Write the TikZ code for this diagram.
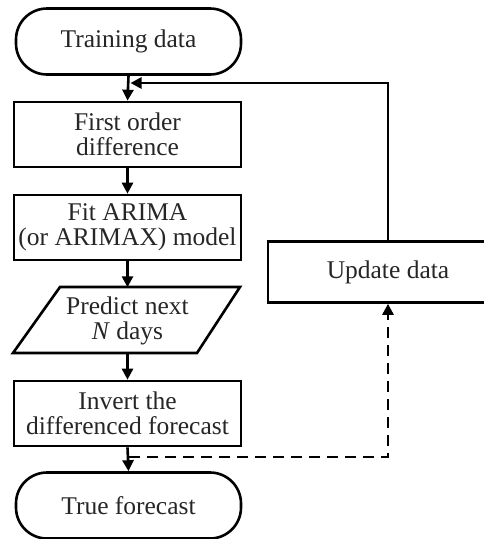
\documentclass[tikz,border=0pt]{standalone}
\usepackage{fontspec}
\setmainfont{Liberation Serif}
\usetikzlibrary{arrows.meta,calc}
\begin{document}
\begin{tikzpicture}[x=1pt,y=-1pt,
  every node/.style={font=\fontsize{25.5}{25}\selectfont, align=center, inner sep=0pt, text=black!85},
  boxnode/.style={draw=black, line width=2.6pt, minimum width=227pt, minimum height=65pt},
  termnode/.style={draw=black, line width=2.6pt, rounded corners=31pt, minimum width=225pt, minimum height=66pt},
  arr/.style={line width=2.6pt, -{Triangle[length=11pt,width=11pt]}},
  dasharr/.style={arr, dash pattern=on 11pt off 7pt}]
\useasboundingbox (0,0) rectangle (484,539);
\node[termnode] (train) at (128.5,41.5) {Training data};
\node[boxnode] (first) at (127.5,134.5) {First order\\difference};
\node[boxnode] (fit) at (127.5,227.5) {Fit ARIMA\\(or ARIMAX) model};
\node[minimum width=227pt, minimum height=66pt] (pred) at (127.5,320.5) {Predict next\\\textit{N} days};
\draw[line width=2.6pt, line join=miter] (13,353) -- (60,287) -- (240,287) -- (197,353) -- cycle;
\node[boxnode] (inv) at (127.5,413.5) {Invert the\\differenced forecast};
\node[termnode] (true) at (128.5,505.5) {True forecast};
\node[boxnode, minimum width=240pt, minimum height=61pt] (upd) at (388,272) {Update data};
\coordinate (fb) at (130.5,83);
\coordinate (ds) at (129,457);
\draw[arr] (train.south) -- (first.north);
\draw[arr] (first.south) -- (fit.north);
\draw[arr] (fit.south) -- (pred.north);
\draw[arr] (pred.south) -- (inv.north);
\draw[arr] (inv.south) -- (true.north);
\draw[arr] (upd.north) |- (fb);
\draw[dasharr] (ds) -| (upd.south);
\end{tikzpicture}
\end{document}
